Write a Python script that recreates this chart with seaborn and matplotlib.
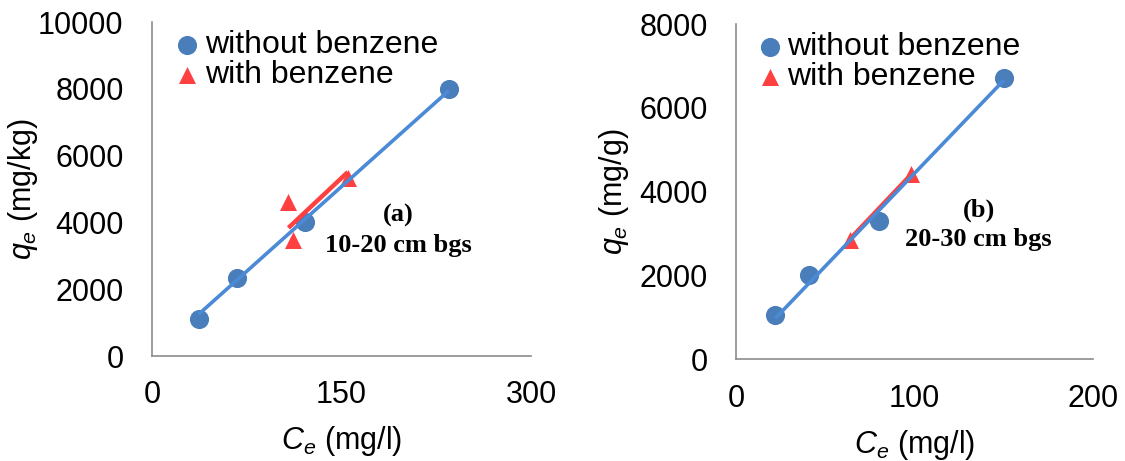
import numpy as np
import pandas as pd
import matplotlib
matplotlib.use("Agg")
import matplotlib.pyplot as plt
import seaborn as sns

# données
ce_a_sans = [37, 67, 121, 235]
qe_a_sans = [1100, 2330, 4000, 8000]
ce_a_avec = [108, 112, 155]
qe_a_avec = [4620, 3470, 5330]

ce_b_sans = [22, 41, 80, 150]
qe_b_sans = [1060, 2010, 3310, 6720]
ce_b_avec = [64, 98]
qe_b_avec = [2850, 4420]

xticks_a = [0, 150, 300]
yticks_a = [0, 2000, 4000, 6000, 8000, 10000]
xticks_b = [0, 100, 200]
yticks_b = [0, 2000, 4000, 6000, 8000]

BLUE_PT = "#4A7EBB"
BLUE_LN = "#4A8AD6"
RED = "#FF4040"
GRAY = "#8C8C8C"

sns.set_style("white")
plt.rcParams["font.family"] = ["Liberation Sans", "DejaVu Sans"]
plt.rcParams["mathtext.fontset"] = "custom"
plt.rcParams["mathtext.rm"] = "Liberation Sans"
plt.rcParams["mathtext.it"] = "Liberation Sans:italic"
plt.rcParams["font.size"] = 22
plt.rcParams["text.color"] = "black"
plt.rcParams["axes.labelcolor"] = "black"

fig = plt.figure(figsize=(11.25, 4.61), dpi=100)
ax_a = fig.add_axes([152 / 1125, 1 - 356 / 461, 379 / 1125, 334 / 461])
ax_b = fig.add_axes([736 / 1125, 1 - 359.3 / 461, 357 / 1125, 335.3 / 461])


def trend(ax, x, y, color, lw, z):
    # droite de tendance passant par l'origine (comme Excel)
    x = np.array(x, dtype=float)
    y = np.array(y, dtype=float)
    pente = (x * y).sum() / (x * x).sum()
    xs = np.array([x.min(), x.max()])
    ax.plot(xs, pente * xs, color=color, lw=lw, zorder=z, solid_capstyle="butt")


def panneau(ax, cx, cy, tx, ty, xticks, yticks, ylab, titre, sous_titre, pos_txt):
    df1 = pd.DataFrame({"Ce": cx, "qe": cy})
    df2 = pd.DataFrame({"Ce": tx, "qe": ty})
    sns.scatterplot(data=df1, x="Ce", y="qe", ax=ax, color=BLUE_PT, marker="o",
                    s=190, linewidth=0, label="without benzene", zorder=2)
    sns.scatterplot(data=df2, x="Ce", y="qe", ax=ax, color=RED, marker="^",
                    s=150, linewidth=0, label="with benzene", zorder=2)
    trend(ax, tx, ty, RED, 3.2, 3)
    trend(ax, cx, cy, BLUE_LN, 2.6, 4)

    ax.set_xlim(xticks[0], xticks[-1])
    ax.set_ylim(yticks[0], yticks[-1])
    ax.set_xticks(xticks)
    ax.set_yticks(yticks)
    for c in ax.collections + ax.lines:
        c.set_clip_on(False)

    for s in ["top", "right"]:
        ax.spines[s].set_visible(False)
    for s in ["left", "bottom"]:
        ax.spines[s].set_color(GRAY)
        ax.spines[s].set_linewidth(1.2)
    ax.tick_params(axis="both", direction="out", length=6.5, width=1.2,
                   color=GRAY, labelsize=22, labelcolor="black")
    ax.tick_params(axis="y", pad=14)
    ax.tick_params(axis="x", pad=11)

    ax.set_xlabel(r"$C_e$ (mg/l)", fontsize=22, color="black")
    ax.set_ylabel(ylab, fontsize=22, color="black")
    ax.xaxis.set_label_coords(0.5, -0.205)
    ax.yaxis.set_label_coords(-0.295, 0.5)

    ax.text(pos_txt[0], pos_txt[1], titre, family="Liberation Serif",
            fontweight="bold", fontsize=19, ha="center", va="center")
    ax.text(pos_txt[0], pos_txt[2], sous_titre, family="Liberation Serif",
            fontweight="bold", fontsize=19, ha="center", va="center")

    leg = ax.legend(loc="upper left", bbox_to_anchor=(0.068, 0.975), frameon=False,
                    fontsize=23, handlelength=0.6, handletextpad=0.25,
                    labelspacing=0.0, borderpad=0, borderaxespad=0)
    for t in leg.get_texts():
        t.set_color("black")


panneau(ax_a, ce_a_sans, qe_a_sans, ce_a_avec, qe_a_avec, xticks_a, yticks_a,
        r"$q_e$ (mg/kg)", "(a)", "10-20 cm bgs", (195, 4220, 3320))
panneau(ax_b, ce_b_sans, qe_b_sans, ce_b_avec, qe_b_avec, xticks_b, yticks_b,
        r"$q_e$ (mg/g)", "(b)", "20-30 cm bgs", (136, 3560, 2860))

fig.savefig("out.png", dpi=100)
